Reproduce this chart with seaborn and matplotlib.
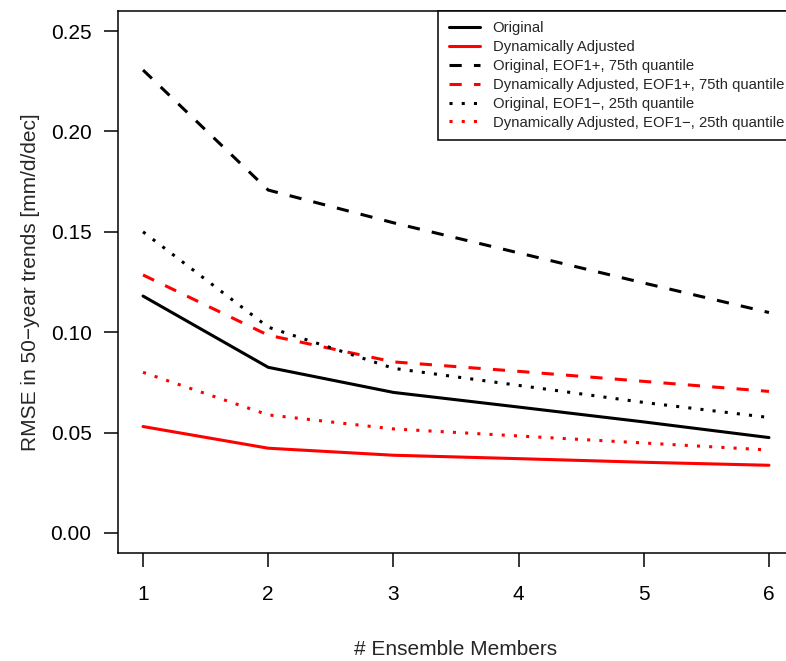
import matplotlib
matplotlib.use("Agg")
import matplotlib.pyplot as plt
import seaborn as sns
import pandas as pd
from matplotlib.lines import Line2D

members = [1, 2, 3, 4, 5, 6]
original = [0.1180, 0.0825, 0.0700, 0.0627, 0.0553, 0.0475]
dyn_adj = [0.0530, 0.0422, 0.0387, 0.0370, 0.0352, 0.0337]
orig_eof_pos75 = [0.2306, 0.1708, 0.1545, 0.1395, 0.1245, 0.1098]
dyn_eof_pos75 = [0.1285, 0.0985, 0.0852, 0.0805, 0.0755, 0.0705]
orig_eof_neg25 = [0.1500, 0.1025, 0.0820, 0.0735, 0.0650, 0.0575]
dyn_eof_neg25 = [0.0800, 0.0588, 0.0518, 0.0483, 0.0448, 0.0413]

labels = ["Original", "Dynamically Adjusted",
          "Original, EOF1+, 75th quantile",
          "Dynamically Adjusted, EOF1+, 75th quantile",
          "Original, EOF1\u2212, 25th quantile",
          "Dynamically Adjusted, EOF1\u2212, 25th quantile"]
yticks = [0.00, 0.05, 0.10, 0.15, 0.20, 0.25]
ytick_labels = ["0.00", "0.05", "0.10", "0.15", "0.20", "0.25"]

series = [original, dyn_adj, orig_eof_pos75, dyn_eof_pos75, orig_eof_neg25, dyn_eof_neg25]
colors = ["black", "red", "black", "red", "black", "red"]
styles = ["-", "-", (0, (4, 4)), (0, (4, 4)), (0, (1, 3)), (0, (1, 3))]

sns.set_style("white")
plt.rcParams['font.family'] = ['Liberation Sans', 'DejaVu Sans']

fig = plt.figure(figsize=(7.86, 6.61), dpi=100)
ax = fig.add_axes([118/786, 108/661, 676/786, 542/661])

lw = 2.2
handles = []
for vals, lab, c, ls in zip(series, labels, colors, styles):
    df = pd.DataFrame({"x": members, "y": vals})
    sns.lineplot(data=df, x="x", y="y", ax=ax, color=c, linewidth=lw,
                 linestyle=ls, legend=False)
    handles.append(Line2D([0], [0], color=c, lw=lw, linestyle=ls))

ax.set_xlim(0.8, 6.2)
ax.set_ylim(-0.01, 0.26)
ax.set_xticks(members)
ax.set_xticklabels([str(m) for m in members])
ax.set_yticks(yticks)
ax.set_yticklabels(ytick_labels)

for sp in ax.spines.values():
    sp.set_visible(True)
    sp.set_color("black")
    sp.set_linewidth(1.1)

ax.tick_params(axis="both", direction="out", length=10, width=1.1,
               colors="black", labelsize=15, left=True, bottom=True)
ax.tick_params(axis="x", pad=13)
ax.tick_params(axis="y", pad=9)

ax.set_xlabel("# Ensemble Members", fontsize=15, labelpad=26)
ax.set_ylabel("RMSE in 50\u2212year trends [mm/d/dec]", fontsize=15, labelpad=8)

leg = ax.legend(handles, labels, loc="upper right", bbox_to_anchor=(1, 1),
                borderaxespad=0, fontsize=10.7, frameon=True, fancybox=False,
                edgecolor="black", framealpha=1, handlelength=2.09,
                handletextpad=0.87, labelspacing=0.33, borderpad=0.68)
leg.get_frame().set_linewidth(1.1)

fig.savefig("out.png", dpi=100)
